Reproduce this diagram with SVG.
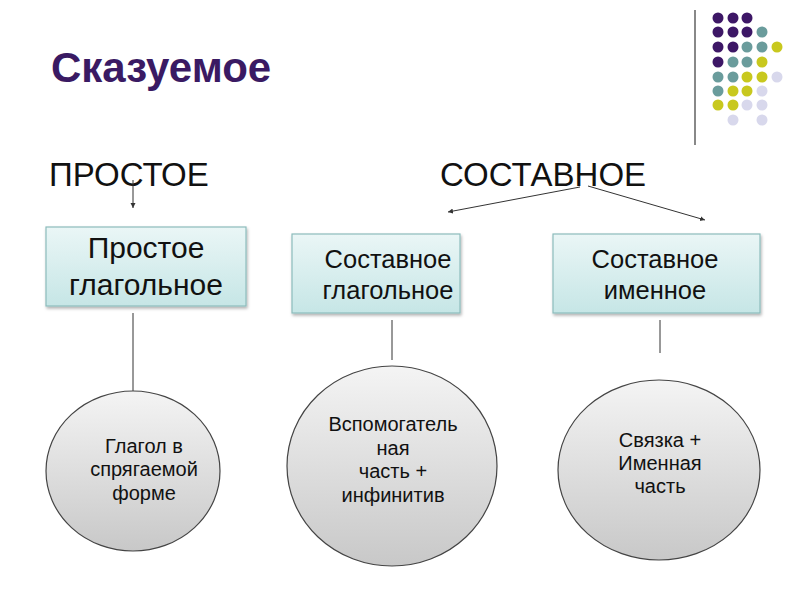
<svg xmlns="http://www.w3.org/2000/svg" width="800" height="600" viewBox="0 0 800 600">
<defs>
<linearGradient id="boxg" x1="0" y1="0" x2="0" y2="1">
<stop offset="0" stop-color="#eaf6f6"/>
<stop offset="1" stop-color="#c6e6e6"/>
</linearGradient>
<linearGradient id="ellg" x1="0" y1="0" x2="0" y2="1">
<stop offset="0" stop-color="#f4f4f4"/>
<stop offset="1" stop-color="#c8c8c8"/>
</linearGradient>
<filter id="sh" x="-10%" y="-10%" width="130%" height="130%">
<feDropShadow dx="1" dy="2" stdDeviation="1.5" flood-color="#000" flood-opacity="0.3"/>
</filter>
<marker id="ah" markerWidth="6" markerHeight="6" refX="5" refY="3" orient="auto" markerUnits="userSpaceOnUse">
<path d="M0,0.5 L5,3 L0,5.5 z" fill="#333"/>
</marker>
<style>
text{font-family:"Liberation Sans",Arial,sans-serif;fill:#111;text-anchor:middle}
.hd{font-size:33px;text-anchor:start}
.b1{font-size:30px}
.b2{font-size:25.5px}
.el{font-size:20px}
.box{fill:url(#boxg);stroke:#8cbcbc;stroke-width:1.2;filter:url(#sh)}
.ell{fill:url(#ellg);stroke:#444;stroke-width:1.2}
.ln{stroke:#333;stroke-width:1;fill:none}
.p{fill:#3d1766}.t{fill:#6a9c9c}.y{fill:#c8c81e}.l{fill:#d8d8ec}
</style>
</defs>
<rect width="800" height="600" fill="#fff"/>
<g id="decor">
<line x1="695" y1="10" x2="695" y2="145" stroke="#888" stroke-width="2"/>
<circle class="p" cx="718" cy="18" r="5.5"/><circle class="p" cx="733" cy="18" r="5.5"/><circle class="p" cx="747" cy="18" r="5.5"/>
<circle class="p" cx="718" cy="32" r="5.5"/><circle class="p" cx="733" cy="32" r="5.5"/><circle class="p" cx="747" cy="32" r="5.5"/><circle class="t" cx="762" cy="32" r="5.5"/>
<circle class="p" cx="718" cy="47" r="5.5"/><circle class="p" cx="733" cy="47" r="5.5"/><circle class="t" cx="747" cy="47" r="5.5"/><circle class="t" cx="762" cy="47" r="5.5"/><circle class="y" cx="777" cy="47" r="5.5"/>
<circle class="p" cx="718" cy="62" r="5.5"/><circle class="t" cx="733" cy="62" r="5.5"/><circle class="t" cx="747" cy="62" r="5.5"/><circle class="y" cx="762" cy="62" r="5.5"/>
<circle class="t" cx="718" cy="77" r="5.5"/><circle class="t" cx="733" cy="77" r="5.5"/><circle class="y" cx="747" cy="77" r="5.5"/><circle class="y" cx="762" cy="77" r="5.5"/><circle class="l" cx="777" cy="77" r="5.5"/>
<circle class="t" cx="718" cy="91" r="5.5"/><circle class="y" cx="733" cy="91" r="5.5"/><circle class="y" cx="747" cy="91" r="5.5"/><circle class="l" cx="762" cy="91" r="5.5"/>
<circle class="y" cx="718" cy="105" r="5.5"/><circle class="y" cx="733" cy="105" r="5.5"/><circle class="l" cx="747" cy="105" r="5.5"/><circle class="l" cx="762" cy="105" r="5.5"/>
<circle class="l" cx="733" cy="120" r="5.5"/><circle class="l" cx="762" cy="120" r="5.5"/>
</g>
<text x="51" y="82" style="font-size:42px;font-weight:bold;fill:#3a1a63;text-anchor:start">Сказуемое</text>
<text class="hd" x="49" y="186">ПРОСТОЕ</text>
<text class="hd" x="440" y="186">СОСТАВНОЕ</text>
<g id="connectors">
<line class="ln" x1="133" y1="180" x2="133" y2="208" marker-end="url(#ah)"/>
<line class="ln" x1="580" y1="187" x2="448" y2="212" marker-end="url(#ah)"/>
<line class="ln" x1="588" y1="186" x2="705" y2="220" marker-end="url(#ah)"/>
<line class="ln" x1="133" y1="313" x2="133" y2="392"/>
<line class="ln" x1="392" y1="320" x2="392" y2="360"/>
<line class="ln" x1="660" y1="320" x2="660" y2="353"/>
</g>
<g id="box1">
<rect class="box" x="46" y="227" width="200" height="79"/>
<text class="b1" x="146" y="258">Простое</text>
<text class="b1" x="146" y="295">глагольное</text>
</g>
<g id="box2">
<rect class="box" x="292" y="234" width="168" height="79"/>
<text class="b2" x="388" y="268">Составное</text>
<text class="b2" x="388" y="299">глагольное</text>
</g>
<g id="box3">
<rect class="box" x="553" y="234" width="207" height="79"/>
<text class="b2" x="655" y="268">Составное</text>
<text class="b2" x="655" y="299">именное</text>
</g>
<g id="ell1">
<ellipse class="ell" cx="133" cy="471" rx="87" ry="80"/>
<text class="el" x="144" y="453">Глагол в</text>
<text class="el" x="144" y="476">спрягаемой</text>
<text class="el" x="144" y="500">форме</text>
</g>
<g id="ell2">
<ellipse class="ell" cx="392" cy="466" rx="105" ry="100"/>
<text class="el" x="393" y="431">Вспомогатель</text>
<text class="el" x="393" y="455">ная</text>
<text class="el" x="393" y="478">часть +</text>
<text class="el" x="393" y="502">инфинитив</text>
</g>
<g id="ell3">
<ellipse class="ell" cx="659" cy="470" rx="101" ry="90"/>
<text class="el" x="660" y="447">Связка +</text>
<text class="el" x="660" y="470">Именная</text>
<text class="el" x="660" y="493">часть</text>
</g>
</svg>
